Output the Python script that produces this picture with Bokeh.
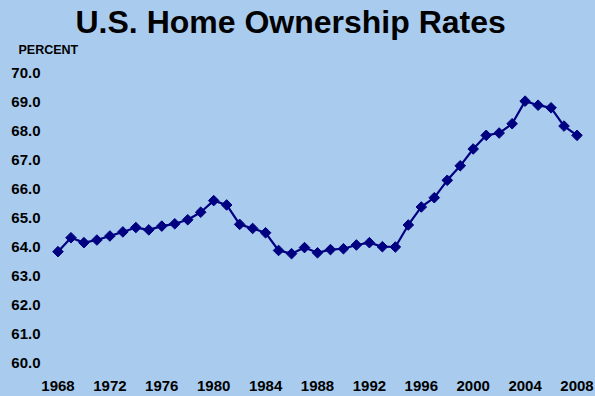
from bokeh.plotting import figure
from bokeh.models import Title, Range1d, FixedTicker, NumeralTickFormatter
from bokeh.embed import file_html
from bokeh.resources import INLINE

BG = "#A9CCEE"
NAVY = "#000080"

years = list(range(1968, 2009))
rates = [63.84, 64.32, 64.15, 64.24, 64.38, 64.52, 64.67, 64.59, 64.72, 64.80,
         64.94, 65.20, 65.60, 65.45, 64.78, 64.64, 64.49, 63.88, 63.77, 63.98,
         63.80, 63.91, 63.94, 64.07, 64.15, 64.01, 64.00, 64.76, 65.38, 65.70,
         66.30, 66.80, 67.38, 67.85, 67.93, 68.25, 69.03, 68.89, 68.80, 68.17,
         67.85]
x_ticks = list(range(1968, 2009, 4))
y_ticks = list(range(60, 71))
title_text = "U.S. Home Ownership Rates"
unit_text = "PERCENT"

FONT = "Liberation Sans"

p = figure(width=595, height=396, output_backend="svg", toolbar_location=None,
           x_range=Range1d(1967.5, 2008.5), y_range=Range1d(59.5, 70.5),
           min_border_left=51, min_border_right=12, min_border_top=58,
           min_border_bottom=19)
p.background_fill_color = BG
p.border_fill_color = BG
p.outline_line_color = None
p.xgrid.visible = False
p.ygrid.visible = False

for ax in (p.xaxis[0], p.yaxis[0]):
    ax.axis_line_color = None
    ax.major_tick_line_color = None
    ax.minor_tick_line_color = None
    ax.major_tick_out = 0
    ax.major_tick_in = 0
    ax.major_label_text_font = FONT
    ax.major_label_text_font_style = "bold"
    ax.major_label_text_font_size = "15px"
    ax.major_label_text_color = "#000000"

p.xaxis[0].ticker = FixedTicker(ticks=x_ticks)
p.xaxis[0].major_label_standoff = 3
p.yaxis[0].ticker = FixedTicker(ticks=y_ticks)
p.yaxis[0].formatter = NumeralTickFormatter(format="0.0")
p.yaxis[0].major_label_standoff = 11

p.line(years, rates, line_color=NAVY, line_width=2.2)
p.scatter(years, rates, marker="square", angle=0.785398, size=7.5,
          fill_color=NAVY, line_color=NAVY, line_width=1)

p.title.text = title_text
p.title.align = "left"
p.title.offset = 24
p.title.standoff = 0
p.title.text_font = FONT
p.title.text_font_style = "bold"
p.title.text_font_size = "32px"
p.title.text_color = "#000000"

p.add_layout(Title(text=unit_text, align="left", offset=-33, standoff=3,
                   text_font=FONT, text_font_style="bold", text_font_size="12.5px",
                   text_color="#000000"), "above")

tmpl = ("{% block preamble %}<style>html, body { margin: 0 !important; padding: 0; "
        "background: " + BG + "; overflow: hidden; }</style>{% endblock %}")
open("out.html", "w").write(file_html(p, INLINE, template=tmpl))
